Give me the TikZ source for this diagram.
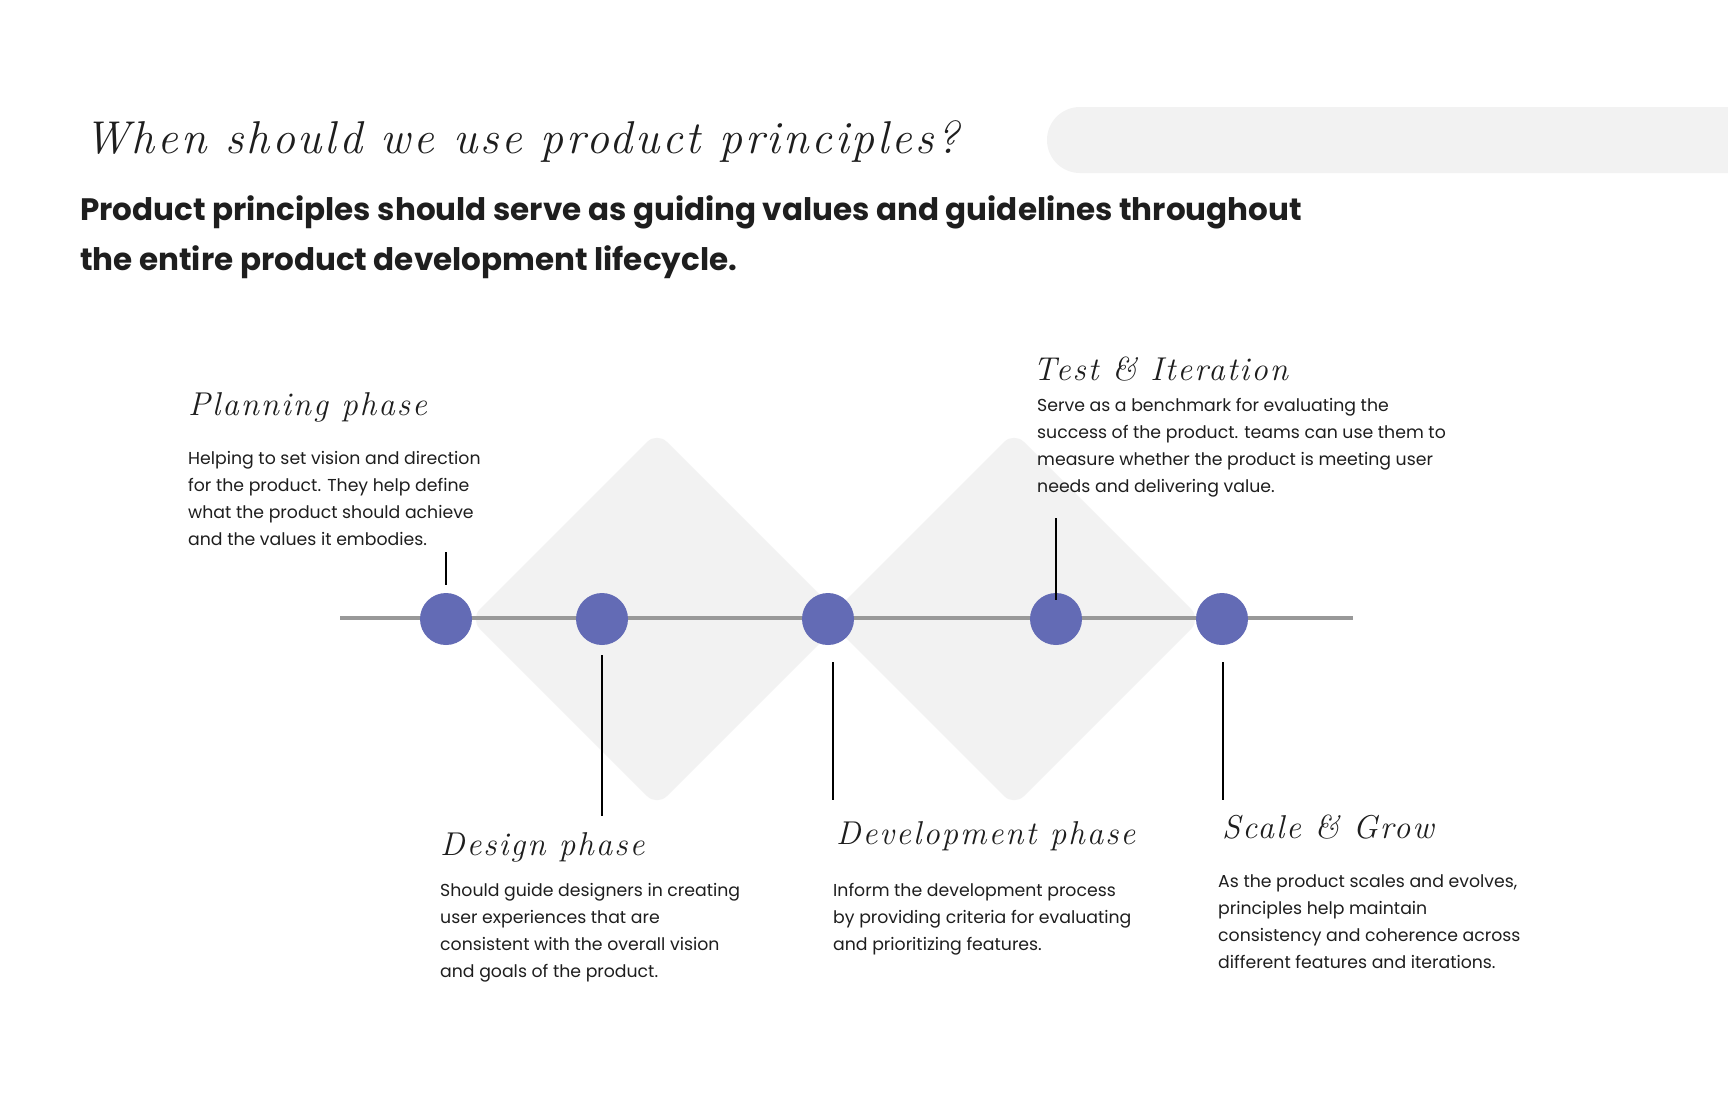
\documentclass[tikz,border=0pt]{standalone}
\usepackage{fontspec}
\setmainfont{Poppins}
\newfontfamily\hand[LetterSpace=6]{Latin Modern Roman}
\definecolor{ink}{HTML}{1E1E1E}
\definecolor{paper}{HTML}{F2F2F2}
\definecolor{dot}{RGB}{99,107,181}
\definecolor{track}{HTML}{999999}
\tikzset{
  phasetitle/.style={anchor=base west, inner sep=0pt, text=ink, font=\hand\itshape\fontsize{33}{37}\selectfont},
  phasebody/.style={anchor=base west, inner sep=0pt, text=ink, align=left, font=\fontsize{17.3}{26.7}\selectfont},
  dotnode/.style={circle, fill=dot, minimum size=52pt, inner sep=0pt},
  conn/.style={draw=black, line width=1.1pt},
  rhomb/.style={fill=paper, rounded corners=14pt}
}
\begin{document}
\begin{tikzpicture}[x=1pt,y=-1pt]
\useasboundingbox (0,0) rectangle (1728,1117);
\fill[white] (0,0) rectangle (1728,1117);
\clip (0,0) rectangle (1728,1117);
% top right bar
\fill[paper, rounded corners=33pt] (1047,107) rectangle (1800,173);
% title
\node[anchor=base west, inner sep=0pt, text=ink, font=\hand\itshape\fontsize{46}{50}\selectfont] (title) at (84,153) {When should we use product principles?};
\node[anchor=base west, inner sep=0pt, text=ink, align=left, font=\bfseries\fontsize{31}{50}\selectfont] (sub) at (80,270) {Product principles should serve as guiding values and guidelines throughout\\the entire product development lifecycle.};
% diamonds
\fill[rhomb] (657,432) -- (844,619) -- (657,806) -- (470,619) -- cycle;
\fill[rhomb] (1014,432) -- (1201,619) -- (1014,806) -- (827,619) -- cycle;
% track
\coordinate (tl) at (340,618);
\coordinate (tr) at (1353,618);
\draw[track, line width=3.5pt] (tl) -- (tr);
% dots
\node[dotnode] (c1) at (446,619) {};
\node[dotnode] (c2) at (602,619) {};
\node[dotnode] (c3) at (828,619) {};
\node[dotnode] (c4) at (1056,619) {};
\node[dotnode] (c5) at (1222,619) {};
% connectors
\coordinate (p1a) at (446,552); \coordinate (p1b) at (446,585);
\coordinate (p2a) at (602,655); \coordinate (p2b) at (602,816);
\coordinate (p3a) at (833,662); \coordinate (p3b) at (833,800);
\coordinate (p4a) at (1056,518); \coordinate (p4b) at (1056,600);
\coordinate (p5a) at (1223,662); \coordinate (p5b) at (1223,800);
\draw[conn] (p1a) -- (p1b);
\draw[conn] (p2a) -- (p2b);
\draw[conn] (p3a) -- (p3b);
\draw[conn] (p4a) -- (p4b);
\draw[conn] (p5a) -- (p5b);
% phases (body nodes are anchored at the baseline of their last line)
\node[phasetitle] (t1) at (188,415) {Planning phase};
\node[phasebody] (b1) at (188,545) {Helping to set vision and direction\\for the product. They help define\\what the product should achieve\\and the values it embodies.};
\node[phasetitle] (t4) at (1033,380) {Test \& Iteration};
\node[phasebody] (b4) at (1037,492) {Serve as a benchmark for evaluating the\\success of the product. teams can use them to\\measure whether the product is meeting user\\needs and delivering value.};
\node[phasetitle] (t2) at (440,855) {Design phase};
\node[phasebody] (b2) at (440,977) {Should guide designers in creating\\user experiences that are\\consistent with the overall vision\\and goals of the product.};
\node[phasetitle] (t3) at (836,844) {Development phase};
\node[phasebody] (b3) at (833,950) {Inform the development process\\by providing criteria for evaluating\\and prioritizing features.};
\node[phasetitle] (t5) at (1222,838) {Scale \& Grow};
\node[phasebody] (b5) at (1218,968) {As the product scales and evolves,\\principles help maintain\\consistency and coherence across\\different features and iterations.};
\end{tikzpicture}
\end{document}
